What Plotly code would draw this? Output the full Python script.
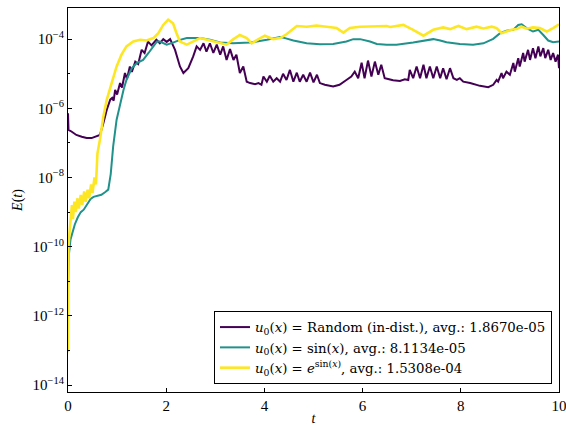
import plotly.graph_objects as go

# ---- data (log10 of E(t)) ----
t_rand = [0.00, 0.01, 0.07, 0.17, 0.28, 0.38, 0.48, 0.58, 0.65, 0.72, 0.79, 0.86, 0.90, 0.93, 0.96, 1.00,
          1.06, 1.10, 1.16, 1.20, 1.26, 1.30, 1.37, 1.43, 1.50, 1.56, 1.63, 1.70, 1.80, 1.87, 1.94, 2.01,
          2.08, 2.18, 2.28, 2.35, 2.45, 2.55, 2.62, 2.69, 2.76, 2.82, 2.89, 2.96, 3.03, 3.10, 3.16, 3.23,
          3.30, 3.37, 3.43, 3.50, 3.57, 3.64, 3.71, 3.81, 3.88, 3.94, 3.98, 4.05, 4.11, 4.18, 4.25, 4.32,
          4.38, 4.45, 4.52, 4.59, 4.66, 4.72, 4.79, 4.86, 4.93, 5.00, 5.07, 5.13, 5.23, 5.40, 5.53, 5.67,
          5.77, 5.84, 5.91, 5.98, 6.04, 6.11, 6.18, 6.25, 6.32, 6.38, 6.45, 6.52, 6.62, 6.76, 6.86, 6.93,
          6.96, 7.03, 7.10, 7.17, 7.24, 7.30, 7.37, 7.44, 7.51, 7.58, 7.64, 7.71, 7.78, 7.85, 7.92, 7.98,
          8.05, 8.19, 8.39, 8.56, 8.66, 8.73, 8.76, 8.83, 8.86, 8.93, 9.00, 9.07, 9.10, 9.17, 9.20, 9.27,
          9.30, 9.37, 9.41, 9.47, 9.52, 9.58, 9.62, 9.68, 9.72, 9.78, 9.83, 9.88, 9.93, 9.98, 10.0]
logE_rand = [-6.14, -6.62, -6.67, -6.77, -6.82, -6.86, -6.86, -6.82, -6.77, -6.43, -6.04, -5.75, -5.70, -5.78, -5.47, -5.60,
             -5.27, -5.40, -4.98, -5.15, -4.79, -4.95, -4.65, -4.72, -4.31, -4.40, -4.07, -4.18, -4.02, -4.12, -4.00, -4.08,
             -4.00, -4.31, -4.79, -4.98, -4.84, -4.50, -4.21, -4.31, -4.12, -4.36, -4.12, -4.40, -4.16, -4.45, -4.21, -4.60,
             -4.29, -4.60, -4.45, -4.98, -4.79, -5.23, -5.27, -5.30, -5.27, -5.32, -5.08, -5.23, -5.06, -5.23, -5.13, -5.23,
             -5.00, -5.18, -4.89, -5.23, -4.97, -5.23, -5.03, -5.23, -4.97, -5.25, -5.03, -5.27, -5.32, -5.37, -5.32, -5.18,
             -5.08, -4.94, -5.13, -4.68, -5.13, -4.62, -5.08, -4.65, -5.03, -4.74, -5.13, -5.15, -5.19, -5.21, -5.16, -5.18,
             -4.89, -5.13, -4.79, -5.13, -4.74, -5.13, -4.79, -5.13, -4.79, -5.13, -4.84, -5.16, -4.84, -5.13, -5.18, -5.13,
             -5.23, -5.27, -5.35, -5.39, -5.32, -5.18, -5.23, -4.98, -5.13, -4.94, -5.03, -4.69, -4.94, -4.55, -4.79, -4.40,
             -4.65, -4.31, -4.60, -4.26, -4.55, -4.21, -4.50, -4.26, -4.55, -4.31, -4.60, -4.40, -4.65, -4.45, -4.84]

t_sin = [0.00, 0.01, 0.02, 0.05, 0.09, 0.14, 0.20, 0.26, 0.32, 0.40, 0.46, 0.52, 0.60, 0.68, 0.76, 0.82,
         0.87, 0.92, 0.99, 1.06, 1.13, 1.19, 1.30, 1.40, 1.53, 1.64, 1.74, 1.81, 1.87, 2.01, 2.14, 2.28,
         2.42, 2.69, 2.89, 3.10, 3.36, 3.71, 4.05, 4.32, 4.42, 4.59, 4.86, 5.13, 5.40, 5.67, 5.81, 5.95,
         6.15, 6.29, 6.49, 6.69, 7.03, 7.24, 7.44, 7.58, 7.71, 7.98, 8.25, 8.46, 8.66, 8.80, 8.93, 9.07,
         9.17, 9.24, 9.34, 9.47, 9.58, 9.68, 9.78, 9.88, 10.0]
logE_sin = [-11.1, -10.6, -10.2, -9.8, -9.6, -9.35, -9.15, -9.0, -8.93, -8.75, -8.62, -8.56, -8.52, -8.50, -8.42, -8.35,
            -7.9, -7.1, -6.33, -5.85, -5.47, -5.18, -4.84, -4.69, -4.60, -4.40, -4.21, -4.07, -4.07, -4.16, -4.10, -4.02,
            -3.97, -3.97, -4.02, -4.10, -4.12, -4.10, -4.02, -3.94, -3.97, -4.04, -4.12, -4.15, -4.14, -4.07, -4.00, -4.00,
            -4.07, -4.14, -4.16, -4.16, -4.10, -4.04, -4.00, -4.04, -4.09, -4.14, -4.16, -4.12, -3.99, -3.83, -3.76, -3.73,
            -3.59, -3.57, -3.68, -3.78, -3.73, -3.88, -4.04, -4.09, -4.07]

t_exp = [0.00, 0.005, 0.01, 0.03, 0.06, 0.08, 0.10, 0.13, 0.16, 0.19, 0.22, 0.26, 0.29, 0.33, 0.36, 0.40,
         0.43, 0.47, 0.50, 0.54, 0.57, 0.60, 0.65, 0.72, 0.79, 0.89, 0.99, 1.09, 1.19, 1.33, 1.47, 1.60,
         1.74, 1.84, 1.94, 2.04, 2.14, 2.21, 2.28, 2.42, 2.55, 2.69, 2.89, 3.10, 3.23, 3.37, 3.50, 3.64,
         3.74, 3.88, 4.01, 4.18, 4.32, 4.45, 4.66, 4.86, 5.06, 5.27, 5.47, 5.61, 5.74, 5.95, 6.22, 6.49,
         6.56, 6.83, 7.03, 7.24, 7.44, 7.64, 7.78, 7.95, 8.12, 8.32, 8.46, 8.63, 8.73, 8.83, 8.93, 9.03,
         9.14, 9.24, 9.34, 9.47, 9.61, 9.75, 9.88, 10.0]
logE_exp = [-13.05, -11.5, -10.0, -9.6, -9.1, -8.8, -9.2, -8.7, -9.0, -8.6, -8.9, -8.5, -8.8, -8.4, -8.7, -8.35,
            -8.6, -8.2, -8.45, -8.0, -8.2, -7.3, -6.91, -6.24, -5.75, -5.27, -4.79, -4.45, -4.21, -4.07, -4.02, -4.04,
            -3.97, -3.83, -3.59, -3.44, -3.54, -3.83, -4.07, -4.16, -4.07, -3.97, -4.04, -4.12, -4.16, -4.00, -3.88, -3.97,
            -4.12, -4.00, -3.90, -4.00, -3.97, -3.86, -3.62, -3.64, -3.61, -3.64, -3.68, -3.81, -3.68, -3.64, -3.64, -3.62,
            -3.65, -3.59, -3.73, -3.90, -3.73, -3.66, -3.71, -3.62, -3.71, -3.64, -3.69, -3.64, -3.68, -3.83, -3.78, -3.73,
            -3.71, -3.64, -3.70, -3.66, -3.68, -3.78, -3.68, -3.57]

labels = [
    "<i>u</i><sub>0</sub>(<i>x</i>) = Random (in-dist.), avg.: 1.8670e-05",
    "<i>u</i><sub>0</sub>(<i>x</i>) = sin(<i>x</i>), avg.: 8.1134e-05",
    "<i>u</i><sub>0</sub>(<i>x</i>) = <i>e</i><sup>sin(<i>x</i>)</sup>, avg.: 1.5308e-04",
]
colors = ["#440154", "#21918c", "#fde725"]

major_exp = [-14, -12, -10, -8, -6, -4]
minor_exp = [-13, -11, -9, -7, -5]

FONT = "Liberation Serif, DejaVu Serif, serif"
LFONT = "DejaVu Serif, serif"

fig = go.Figure()
series = [(t_rand, logE_rand, 2.0), (t_sin, logE_sin, 2.0), (t_exp, logE_exp, 2.6)]
for (tt, ll, w), lab, c in zip(series, labels, colors):
    fig.add_trace(go.Scatter(x=tt, y=[10 ** v for v in ll], mode="lines", name=lab,
                             line=dict(color=c, width=w)))

fig.update_layout(
    width=566, height=427,
    margin=dict(l=68, r=7, t=8, b=35),
    paper_bgcolor="white", plot_bgcolor="white",
    font=dict(family=FONT, size=15, color="black"),
    showlegend=True,
    legend=dict(x=0.9857, y=0.021, xanchor="right", yanchor="bottom",
                bgcolor="white", bordercolor="black", borderwidth=1,
                font=dict(family=LFONT, size=13.3), tracegroupgap=0),
)
fig.update_xaxes(range=[0, 10], tickvals=[0, 2, 4, 6, 8, 10], ticks="inside", ticklen=4,
                 tickcolor="black", showline=True, linecolor="black", linewidth=1, mirror=True,
                 showgrid=False, zeroline=False, automargin=False, ticklabeloverflow="allow",
                 tickfont=dict(size=15),
                 title=dict(text="<i>t</i>", standoff=0, font=dict(size=14)))
fig.update_yaxes(type="log", range=[-14.2, -3.1],
                 tickvals=[10.0 ** e for e in major_exp],
                 ticktext=["10<sup>\u2212%d</sup>" % (-e) for e in major_exp],
                 ticks="inside", ticklen=4, tickcolor="black",
                 minor=dict(tickvals=[10.0 ** e for e in minor_exp], ticks="inside", ticklen=2,
                            tickcolor="black", showgrid=False),
                 showline=True, linecolor="black", linewidth=1, mirror=True,
                 showgrid=False, zeroline=False, automargin=False, ticklabeloverflow="allow",
                 tickfont=dict(size=15),
                 title=dict(text="<i>E</i>(<i>t</i>)", standoff=6, font=dict(size=14)))

fig.write_html("out.html")
